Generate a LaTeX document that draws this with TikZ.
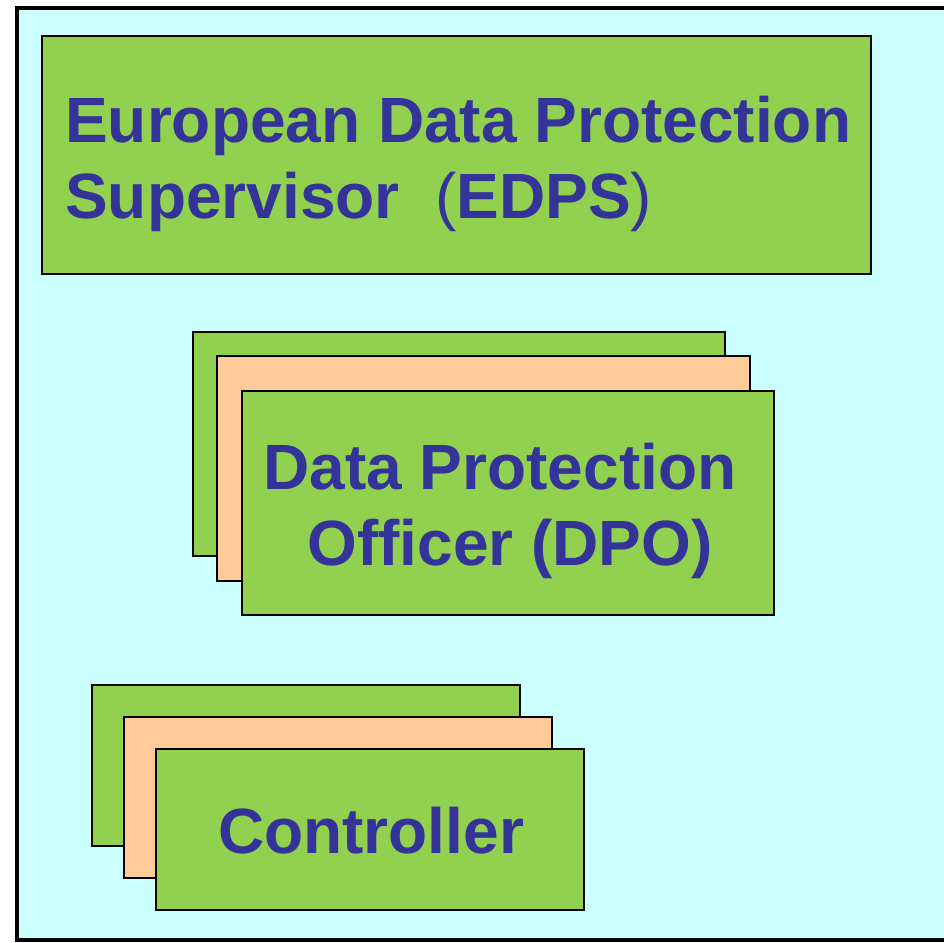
\documentclass[tikz,border=0pt]{standalone}
\usepackage{fontspec}
\setmainfont{Liberation Sans}
\definecolor{panel}{HTML}{CCFFFF}
\definecolor{leaf}{HTML}{92D050}
\definecolor{peach}{HTML}{FFCC99}
\definecolor{ink}{HTML}{333399}

\tikzset{
  card/.style={draw=black, line width=1.8pt},
  caption/.style={inner sep=0pt, text=ink, font=\fontsize{48}{56.5}\selectfont\bfseries},
}

\begin{document}
\begin{tikzpicture}[x=0.75pt, y=-0.75pt]
\useasboundingbox (0,0) rectangle (944,942);
\clip (0,0) rectangle (944,942);
%\draw[help lines] (0,0) grid (944,942);

% outer panel, runs off to the right
\draw[line width=3pt, fill=panel] (17,8) rectangle (980,940);

% EDPS
\draw[card, fill=leaf] (42,36) rectangle (871,274);
\node[caption, anchor=base west, align=left] (edps) at (65,218)
  {European Data Protection\\Supervisor\ \ {\mdseries(}EDPS{\mdseries)}};

% DPO stack
\draw[card, fill=leaf]  (193,332) rectangle (725,556);
\draw[card, fill=peach] (217,356) rectangle (750,581);
\draw[card, fill=leaf]  (242,391) rectangle (774,615);
\node[caption, anchor=base, align=center] (dpo) at (500,565)
  {Data Protection\\\hspace*{15pt}Officer (DPO)};

% controller stack
\draw[card, fill=leaf]  (92,685) rectangle (520,846);
\draw[card, fill=peach] (124,717) rectangle (552,878);
\draw[card, fill=leaf]  (156,749) rectangle (584,910);
\node[caption, anchor=base] (ctrl) at (371,853) {Controller};
\end{tikzpicture}
\end{document}
